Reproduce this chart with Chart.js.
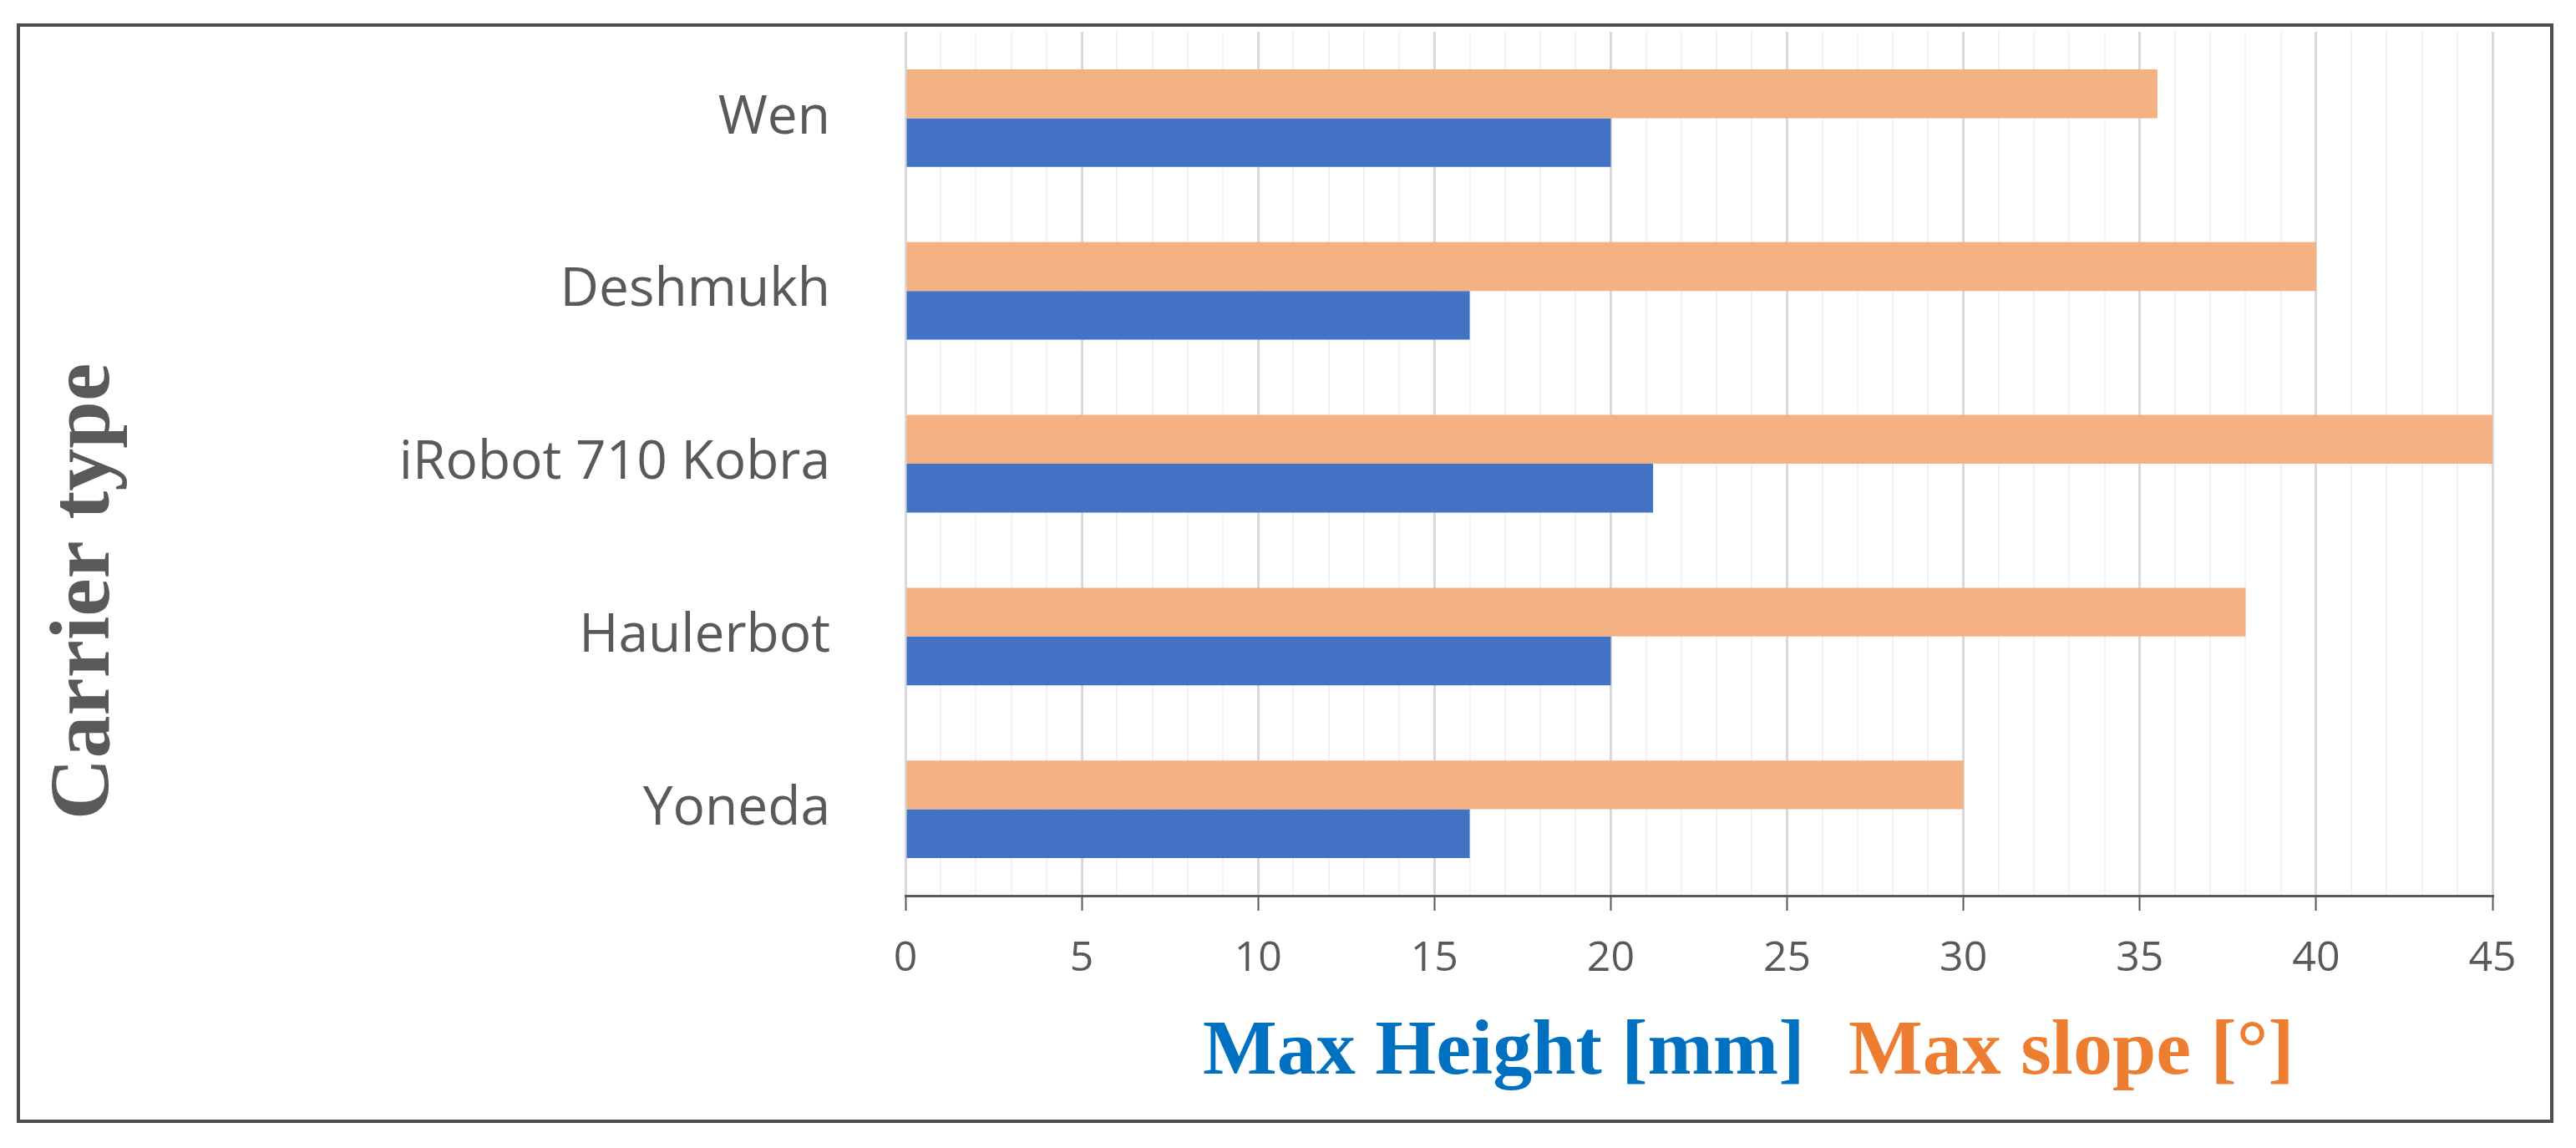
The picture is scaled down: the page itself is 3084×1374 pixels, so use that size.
<!DOCTYPE html>
<html>
<head>
<meta charset="utf-8">
<script src="https://cdn.jsdelivr.net/npm/chart.js@4.4.1/dist/chart.umd.min.js"></script>
<style>
  body { margin: 0; background: #fff; }
  canvas { display: block; }
</style>
</head>
<body>
<canvas id="myChart" width="3084" height="1374"></canvas>
<script>
// data
var carriers = ["Wen", "Deshmukh", "iRobot 710 Kobra", "Haulerbot", "Yoneda"];
var maxSlope = [35.5, 40, 45, 38, 30];      // [°]
var maxHeight = [20, 16, 21.2, 20, 16];     // [mm]
var xTickLabels = ["0", "5", "10", "15", "20", "25", "30", "35", "40", "45"];

var grey = "#595959";

// frame + the two coloured titles
var extras = {
  id: "extras",
  beforeDraw: function(chart) {
    var c = chart.ctx;
    c.save();
    c.fillStyle = "#fff";
    c.fillRect(0, 0, chart.width, chart.height);
    c.restore();
  },
  afterDraw: function(chart) {
    var c = chart.ctx;
    c.save();
    c.strokeStyle = "#4d4d4d";
    c.lineWidth = 4;
    c.strokeRect(22, 30, 3033, 1312);

    // x title, two colours
    c.font = "bold 94px 'Liberation Serif', serif";
    c.textBaseline = "alphabetic";
    c.textAlign = "left";
    c.fillStyle = "#0070C0";
    c.fillText("Max Height [mm]", 1440, 1285);
    c.fillStyle = "#ED7D31";
    c.fillText("Max slope [°]", 2213, 1285);

    // y title
    c.translate(130, 708);
    c.rotate(-Math.PI / 2);
    c.font = "bold 102px 'Liberation Serif', serif";
    c.fillStyle = grey;
    c.textAlign = "center";
    c.fillText("Carrier type", 0, 0);
    c.restore();
  }
};

var ctx = document.getElementById("myChart").getContext("2d");
var myChart = new Chart(ctx, {
  type: "bar",
  data: {
    labels: carriers,
    datasets: [{
      label: "Max slope [°]",
      data: maxSlope,
      backgroundColor: "#F4B183",
      borderWidth: 0,
      categoryPercentage: 0.565,
      barPercentage: 1
    }, {
      label: "Max Height [mm]",
      data: maxHeight,
      backgroundColor: "#4472C4",
      borderWidth: 0,
      categoryPercentage: 0.565,
      barPercentage: 1
    }]
  },
  options: {
    indexAxis: "y",
    responsive: false,
    animation: false,
    devicePixelRatio: 1,
    layout: { padding: { top: 38, right: 100, left: 0, bottom: 0 } },
    plugins: {
      legend: { display: false },
      tooltip: { enabled: false }
    },
    scales: {
      x: {
        min: 0,
        max: 45,
        afterFit: function(scale) {
          scale.height = 302;
          scale.paddingRight = 0;
          scale.paddingLeft = 0;
        },
        border: { color: grey, width: 3 },
        grid: {
          color: function(c) {
            return (c.tick && c.tick.value % 5 === 0) ? "#d9d9d9" : "#f2f2f2";
          },
          lineWidth: function(c) {
            return (c.tick && c.tick.value % 5 === 0) ? 3 : 2;
          },
          tickColor: function(c) {
            return (c.tick && c.tick.value % 5 === 0) ? grey : "rgba(0,0,0,0)";
          },
          tickWidth: 2,
          tickLength: 18
        },
        ticks: {
          stepSize: 1,
          autoSkip: false,
          maxRotation: 0,
          padding: 28,
          color: grey,
          font: { family: "'Open Sans', sans-serif", size: 50 },
          callback: function(value) {
            return value % 5 === 0 ? xTickLabels[value / 5] : "";
          }
        }
      },
      y: {
        afterFit: function(scale) {
          scale.width = 1084;
          scale.paddingTop = 0;
          scale.paddingBottom = 0;
        },
        border: { display: false },
        grid: { display: false, drawTicks: false },
        ticks: {
          padding: 90,
          color: grey,
          font: { family: "'Open Sans', sans-serif", size: 64 }
        }
      }
    }
  },
  plugins: [extras]
});
</script>
</body>
</html>
